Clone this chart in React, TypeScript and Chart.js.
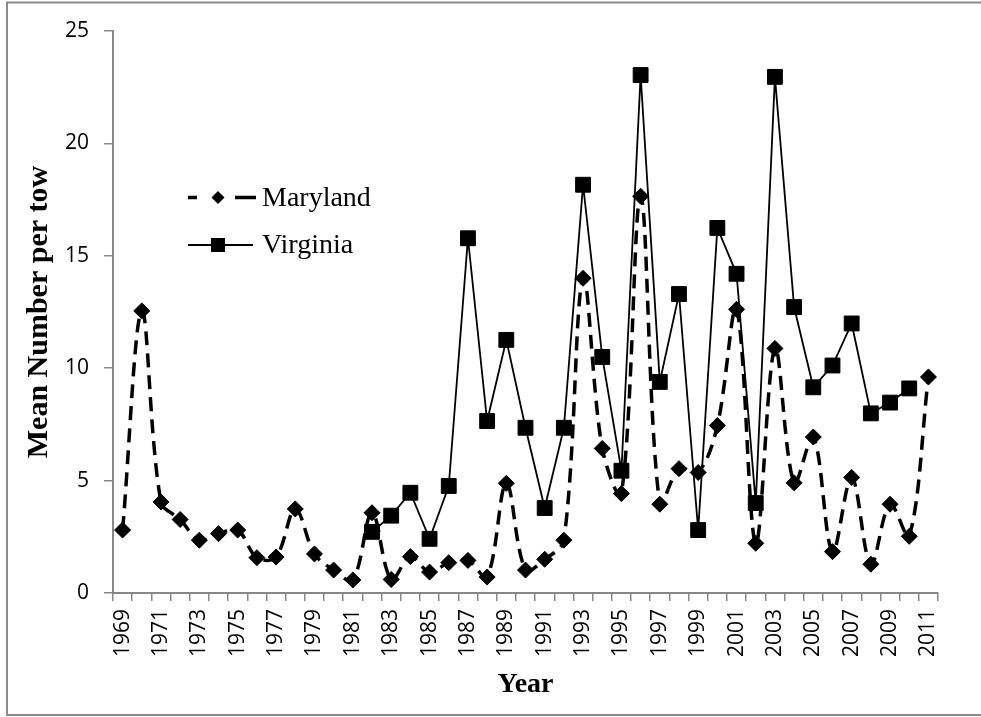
import React, { useEffect, useRef } from "react";
import { Chart, registerables } from "chart.js";

Chart.register(...registerables);

const years = [
  "1969", "1970", "1971", "1972", "1973", "1974", "1975", "1976", "1977", "1978",
  "1979", "1980", "1981", "1982", "1983", "1984", "1985", "1986", "1987", "1988",
  "1989", "1990", "1991", "1992", "1993", "1994", "1995", "1996", "1997", "1998",
  "1999", "2000", "2001", "2002", "2003", "2004", "2005", "2006", "2007", "2008",
  "2009", "2010", "2011",
];

const maryland = [
  2.8, 12.55, 4.05, 3.27, 2.35, 2.64, 2.8, 1.57, 1.6, 3.74,
  1.74, 1.02, 0.58, 3.57, 0.6, 1.62, 0.93, 1.35, 1.45, 0.71,
  4.88, 1.02, 1.5, 2.35, 14.0, 6.43, 4.42, 17.65, 3.95, 5.53,
  5.36, 7.45, 12.62, 2.21, 10.88, 4.9, 6.94, 1.84, 5.14, 1.28,
  3.95, 2.52, 9.61,
];

const virginia = [
  null, null, null, null, null, null, null, null, null, null,
  null, null, null, 2.72, 3.44, 4.46, 2.41, 4.76, 15.78, 7.65,
  11.26, 7.35, 3.78, 7.35, 18.16, 10.5, 5.44, 23.04, 9.39, 13.3,
  2.8, 16.24, 14.2, 4.0, 22.96, 12.72, 9.15, 10.12, 11.99, 7.99,
  8.47, 9.1, null,
];

const seriesNames = ["Maryland", "Virginia"];
const yTitle = "Mean Number per tow";
const xTitle = "Year";

const AXIS_GRAY = "#888888";
const TICK_FONT = "'Open Sans', 'DejaVu Sans', sans-serif";
const SERIF = "'Liberation Serif', 'Times New Roman', serif";

const framePlugin = {
  id: "frame",
  beforeDraw(chart: any) {
    const ctx = chart.ctx;
    ctx.save();
    ctx.fillStyle = "#ffffff";
    ctx.fillRect(0, 0, chart.width, chart.height);
    ctx.strokeStyle = "#8c8c8c";
    ctx.lineWidth = 2;
    ctx.strokeRect(7, 2.5, 990, 712.5);
    ctx.restore();
  },
};

const legendPlugin = {
  id: "customLegend",
  afterDraw(chart: any) {
    const ctx = chart.ctx;
    ctx.save();
    const y1 = 197.5;
    ctx.strokeStyle = "#000";
    ctx.lineWidth = 3.5;
    ctx.beginPath();
    ctx.moveTo(188, y1);
    ctx.lineTo(197, y1);
    ctx.moveTo(235, y1);
    ctx.lineTo(256, y1);
    ctx.stroke();
    ctx.fillStyle = "#000";
    ctx.beginPath();
    ctx.moveTo(218 - 6.5, y1);
    ctx.lineTo(218, y1 - 6.5);
    ctx.lineTo(218 + 6.5, y1);
    ctx.lineTo(218, y1 + 6.5);
    ctx.closePath();
    ctx.fill();
    const y2 = 245;
    ctx.lineWidth = 1.8;
    ctx.beginPath();
    ctx.moveTo(188, y2);
    ctx.lineTo(253, y2);
    ctx.stroke();
    ctx.fillRect(218 - 7, y2 - 7, 14, 14);
    ctx.font = `28px ${SERIF}`;
    ctx.textAlign = "left";
    ctx.textBaseline = "alphabetic";
    ctx.fillText(seriesNames[0], 262, 205.5);
    ctx.fillText(seriesNames[1], 262, 253);
    ctx.restore();
  },
};

export default function App() {
  const canvasRef = useRef<HTMLCanvasElement | null>(null);

  useEffect(() => {
    const canvas = canvasRef.current;
    if (!canvas) return;
    const chart = new Chart(canvas, {
      type: "line",
      data: {
        labels: years,
        datasets: [
          {
            label: seriesNames[0],
            data: maryland,
            borderColor: "#000",
            backgroundColor: "#000",
            borderWidth: 3.5,
            borderDash: [14, 8],
            tension: 0.35,
            pointStyle: "rectRot",
            pointRadius: 8,
            pointBorderWidth: 1,
            pointBackgroundColor: "#000",
            pointBorderColor: "#000",
            fill: false,
            clip: false as any,
            order: 1,
          },
          {
            label: seriesNames[1],
            data: virginia,
            borderColor: "#000",
            backgroundColor: "#000",
            borderWidth: 1.8,
            tension: 0,
            pointStyle: "rect",
            pointRadius: 10.5,
            pointBorderWidth: 1,
            pointBackgroundColor: "#000",
            pointBorderColor: "#000",
            fill: false,
            spanGaps: false,
            clip: false as any,
            order: 0,
          },
        ],
      },
      options: {
        animation: false,
        responsive: false,
        devicePixelRatio: 1,
        layout: { padding: { left: 0, right: 43, top: 31, bottom: 0 } },
        plugins: {
          legend: { display: false },
          tooltip: { enabled: false },
        },
        scales: {
          x: {
            type: "category",
            offset: true,
            grid: {
              offset: true,
              drawOnChartArea: false,
              drawTicks: true,
              tickLength: 8,
              color: AXIS_GRAY,
              lineWidth: 1.5,
            },
            border: { display: true, color: AXIS_GRAY, width: 2 },
            ticks: {
              autoSkip: false,
              minRotation: 90,
              maxRotation: 90,
              padding: 8,
              color: "#000",
              font: { family: TICK_FONT, size: 21 },
              callback: (_v: any, i: number) => (i % 2 === 0 ? years[i] : ""),
            },
            title: {
              display: true,
              text: xTitle,
              color: "#000",
              font: { family: SERIF, size: 28, weight: "bold" },
              padding: { top: 0, bottom: 15 },
            },
            afterFit: (scale: any) => {
              scale.height = 124;
            },
          },
          y: {
            min: 0,
            max: 25,
            ticks: {
              stepSize: 5,
              padding: 15,
              color: "#000",
              font: { family: TICK_FONT, size: 21 },
            },
            grid: {
              drawOnChartArea: false,
              drawTicks: true,
              tickLength: 9,
              color: AXIS_GRAY,
              lineWidth: 1.5,
            },
            border: { display: true, color: AXIS_GRAY, width: 2 },
            title: {
              display: true,
              text: yTitle,
              color: "#000",
              font: { family: SERIF, size: 30, weight: "bold" },
              padding: { top: 21, bottom: 0 },
            },
            afterFit: (scale: any) => {
              scale.width = 113;
            },
          },
        },
      },
      plugins: [framePlugin, legendPlugin],
    });
    return () => chart.destroy();
  }, []);

  return (
    <div style={{ position: "absolute", left: 0, top: 0, width: 981, height: 717, background: "#fff" }}>
      <canvas ref={canvasRef} width={981} height={717} style={{ display: "block" }} />
    </div>
  );
}
